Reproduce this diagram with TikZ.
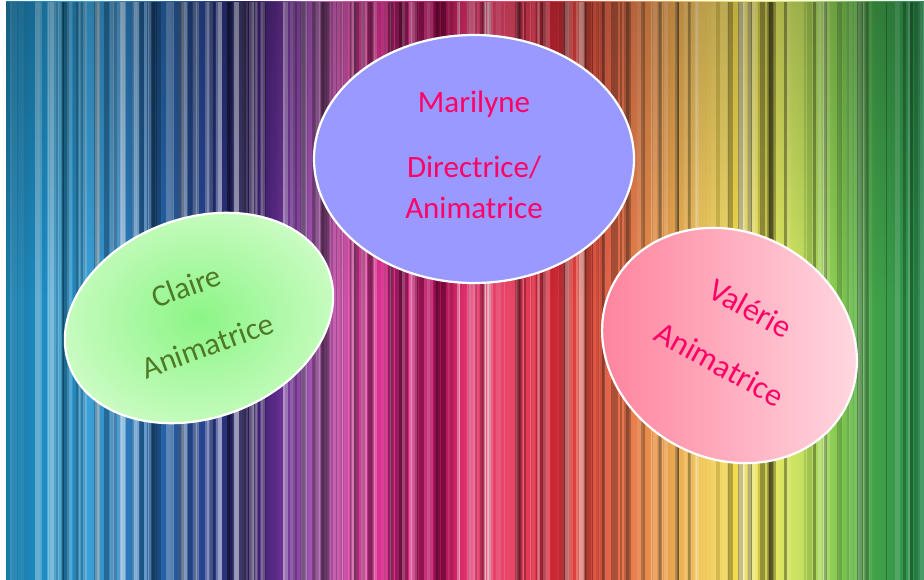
\documentclass[tikz,border=0pt]{standalone}
\usepackage{fontspec}
\setmainfont{Carlito}
\usetikzlibrary{shapes.geometric,fadings}
\definecolor{s0}{HTML}{1A7AA8}
\definecolor{s1}{HTML}{1E90C8}
\definecolor{s2}{HTML}{3AA0D8}
\definecolor{s3}{HTML}{2A78B8}
\definecolor{s4}{HTML}{245AA0}
\definecolor{s5}{HTML}{2A3A88}
\definecolor{s6}{HTML}{2A1E60}
\definecolor{s7}{HTML}{5A2A88}
\definecolor{s8}{HTML}{9A50B0}
\definecolor{s9}{HTML}{C860B0}
\definecolor{s10}{HTML}{D83898}
\definecolor{s11}{HTML}{E02888}
\definecolor{s12}{HTML}{B01058}
\definecolor{s13}{HTML}{E83870}
\definecolor{s14}{HTML}{E84868}
\definecolor{s15}{HTML}{D82838}
\definecolor{s16}{HTML}{E05040}
\definecolor{s17}{HTML}{E87850}
\definecolor{s18}{HTML}{E89848}
\definecolor{s19}{HTML}{F0C860}
\definecolor{s20}{HTML}{F2DC50}
\definecolor{s21}{HTML}{E8E860}
\definecolor{s22}{HTML}{C0E060}
\definecolor{s23}{HTML}{80C850}
\definecolor{s24}{HTML}{40A048}
\definecolor{s25}{HTML}{2A9050}
\definecolor{marifill}{HTML}{9999FF}
\definecolor{pinktext}{HTML}{FF0066}
\definecolor{clairetext}{RGB}{78,122,40}
\definecolor{greenin}{HTML}{8CF586}
\definecolor{greenout}{HTML}{CCFCC4}
\definecolor{pinkl}{HTML}{FF7E9A}
\definecolor{pinkr}{HTML}{FFDDE4}
\pgfdeclarehorizontalshading{rainbowbg}{100bp}{color(0bp)=(s0); color(25bp)=(s0);
 color(27.40bp)=(s1); color(29.58bp)=(s2); color(31.75bp)=(s3); color(34.20bp)=(s4);
 color(36.38bp)=(s5); color(38.02bp)=(s6); color(39.65bp)=(s7); color(41.29bp)=(s8);
 color(42.92bp)=(s9); color(44.28bp)=(s10); color(46.46bp)=(s11); color(48.64bp)=(s12);
 color(50.27bp)=(s13); color(52.45bp)=(s14); color(54.63bp)=(s15); color(56.81bp)=(s16);
 color(58.71bp)=(s17); color(60.62bp)=(s18); color(62.80bp)=(s19); color(64.71bp)=(s20);
 color(66.61bp)=(s21); color(68.52bp)=(s22); color(70.42bp)=(s23); color(72.33bp)=(s24);
 color(75bp)=(s25); color(100bp)=(s25)}
\tikzset{
  bubble/.style={ellipse, draw=white, line width=2.2pt, inner sep=0pt},
  lbl/.style={align=center, inner sep=0pt, font=\fontsize{31}{40.7}\selectfont},
}
\begin{document}
\begin{tikzpicture}[x=1pt,y=-1pt]
\useasboundingbox (0,0) rectangle (924,580);
\fill[white] (0,0) rectangle (924,580);
\shade[shading=rainbowbg] (6,2) rectangle (924,580);
\pgfmathsetseed{7}
\foreach \i in {1,...,280}{
  \pgfmathsetmacro{\xx}{6+914*rnd}
  \pgfmathsetmacro{\ww}{0.8+6*rnd}
  \pgfmathsetmacro{\op}{0.06+0.28*rnd}
  \pgfmathtruncatemacro{\wb}{rnd>0.5}
  \ifnum\wb=1 \def\cc{white}\else\def\cc{black}\fi
  \fill[\cc, opacity=\op] (\xx,2) rectangle ++(\ww,578);
}
\fill[black, opacity=0.22, path fading=south] (6,2) rectangle (924,300);
\node[bubble, fill=marifill, minimum width=320pt, minimum height=248pt] (marilyne) at (474,159) {};
\node[bubble, rotate=20, minimum width=276pt, minimum height=200pt, inner color=greenin, outer color=greenout] (claire) at (199,318) {};
\node[bubble, rotate=-29, minimum width=263pt, minimum height=226pt, left color=pinkl, right color=pinkr] (valerie) at (729.5,345.5) {};
\node[lbl, text=pinktext] (marilyne-t) at (474,155) {Marilyne\\[24.3pt]Directrice/\\Animatrice};
\node[lbl, text=clairetext, rotate=20] (claire-t) at (197,316) {Claire\\[22.3pt]Animatrice};
\node[lbl, text=pinktext, rotate=-29, font=\fontsize{32}{41}\selectfont] (valerie-t) at (735,336) {Valérie\\[22.6pt]Animatrice};
\end{tikzpicture}
\end{document}
